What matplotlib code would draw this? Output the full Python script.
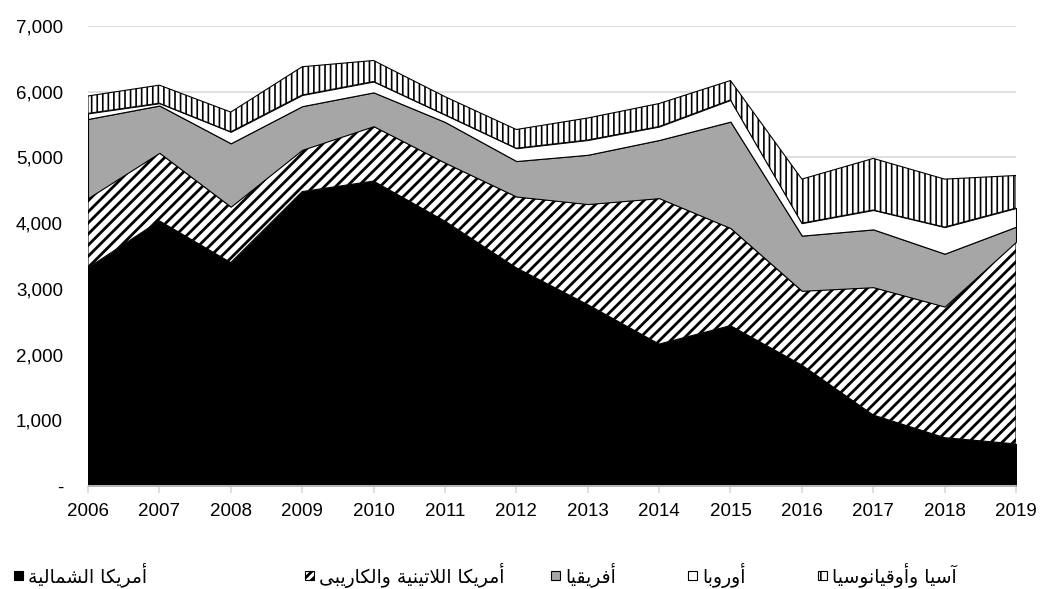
import matplotlib
matplotlib.use('Agg')
import matplotlib.pyplot as plt
import numpy as np
from matplotlib.patches import Rectangle
from matplotlib.ticker import FuncFormatter

years = list(range(2006, 2020))
north_america = [3320, 4035, 3400, 4480, 4640, 4030, 3320, 2760, 2160, 2440, 1840, 1080, 735, 640]
latin_america = [1060, 1035, 850, 635, 835, 890, 1085, 1530, 2220, 1485, 1130, 1945, 1995, 3075]
africa = [1205, 720, 965, 665, 515, 620, 540, 750, 885, 1620, 840, 880, 805, 230]
europe = [85, 35, 175, 170, 165, 110, 195, 225, 205, 330, 190, 295, 405, 285]
asia = [265, 275, 300, 430, 320, 275, 285, 335, 350, 295, 670, 785, 730, 495]

names = ['أمريكا الشمالية', 'أمريكا اللاتينية والكاريبى', 'أفريقيا', 'أوروبا', 'آسيا وأوقيانوسيا']

# matplotlib has no arabic shaping, so pick presentation forms by hand
DUAL = {'ب': 0xFE8F, 'ت': 0xFE95, 'س': 0xFEB1, 'ش': 0xFEB5, 'ف': 0xFED1, 'ق': 0xFED5,
        'ك': 0xFED9, 'ل': 0xFEDD, 'م': 0xFEE1, 'ن': 0xFEE5, 'ي': 0xFEF1}
RIGHT = {'ا': 0xFE8D, 'أ': 0xFE83, 'آ': 0xFE81, 'ر': 0xFEAD, 'و': 0xFEED, 'ة': 0xFE93, 'ى': 0xFEEF}
LAMALEF = {'ا': 0xFEFB, 'أ': 0xFEF7, 'آ': 0xFEF5}


def shape(s):
    toks = []
    i = 0
    while i < len(s):
        if s[i] == 'ل' and i + 1 < len(s) and s[i + 1] in LAMALEF:
            toks.append(('LA', s[i + 1]))
            i += 2
        else:
            toks.append((s[i], None))
            i += 1
    out = []
    for k, (c, a) in enumerate(toks):
        prev = toks[k - 1][0] if k > 0 else ' '
        nxt = toks[k + 1][0] if k + 1 < len(toks) else ' '
        p = prev in DUAL
        if c == 'LA':
            out.append(chr(LAMALEF[a] + (1 if p else 0)))
        elif c in DUAL:
            n = nxt in DUAL or nxt in RIGHT or nxt == 'LA'
            base = DUAL[c]
            off = 3 if (p and n) else 1 if p else 2 if n else 0
            out.append(chr(base + off))
        elif c in RIGHT:
            out.append(chr(RIGHT[c] + (1 if p else 0)))
        else:
            out.append(c)
    return ''.join(out[::-1])


plt.rcParams['font.family'] = ['Liberation Sans', 'DejaVu Sans']

fig = plt.figure(figsize=(10.41, 5.89), dpi=100)
ax = fig.add_axes([88 / 1041, 1 - 486 / 589, 928 / 1041, 460 / 589])

series = [north_america, latin_america, africa, europe, asia]
faces = ['black', 'white', '#a6a6a6', 'white', 'white']
hatches = [None, '///', None, None, '|||']
hlw = [1, 2.0, 1, 1, 1.2]
leg_hatches = [None, '////', None, None, '||']
leg_hlw = [1, 2.0, 1, 1, 1.2]

x = np.array(years)
bottom = np.zeros(len(years))
for vals, fc, h, lw in zip(series, faces, hatches, hlw):
    top = bottom + np.array(vals)
    plt.rcParams['hatch.linewidth'] = lw
    ax.fill_between(x, bottom, top, facecolor=fc, edgecolor='black', hatch=h,
                    linewidth=0.8, zorder=2)
    bottom = top

ax.set_xlim(2006, 2019)
ax.set_ylim(0, 7000)
ax.set_xticks(years)
ax.set_yticks(np.arange(0, 7001, 1000))
ax.yaxis.set_major_formatter(FuncFormatter(lambda v, p: '-' if v == 0 else f'{v:,.0f}'))
ax.grid(axis='y', color='#d9d9d9', linewidth=1.2, zorder=0)
ax.set_axisbelow(True)
for s in ['top', 'right', 'left']:
    ax.spines[s].set_visible(False)
ax.spines['bottom'].set_color('#d9d9d9')
ax.spines['bottom'].set_linewidth(1.2)
ax.tick_params(axis='y', length=0, pad=18, labelsize=13.5)
ax.tick_params(axis='x', length=5, color='#d9d9d9', width=1.2, pad=7, labelsize=13.5)

# legend drawn by hand, right to left like the source
leg_x = [14, 305, 551, 688, 818]
leg_y = 575
for nm, fc, h, lw, lx in zip(names, faces, leg_hatches, leg_hlw, leg_x):
    plt.rcParams['hatch.linewidth'] = lw
    r = Rectangle((lx / 1041, 1 - (leg_y + 5) / 589), 9 / 1041, 9 / 589,
                  transform=fig.transFigure, facecolor=fc, edgecolor='black',
                  hatch=h, linewidth=0.8)
    fig.add_artist(r)
    fig.text((lx + 14) / 1041, 1 - leg_y / 589, shape(nm), ha='left', va='center',
             fontsize=13.5, family=['DejaVu Sans'])

fig.savefig('out.png', dpi=100)
